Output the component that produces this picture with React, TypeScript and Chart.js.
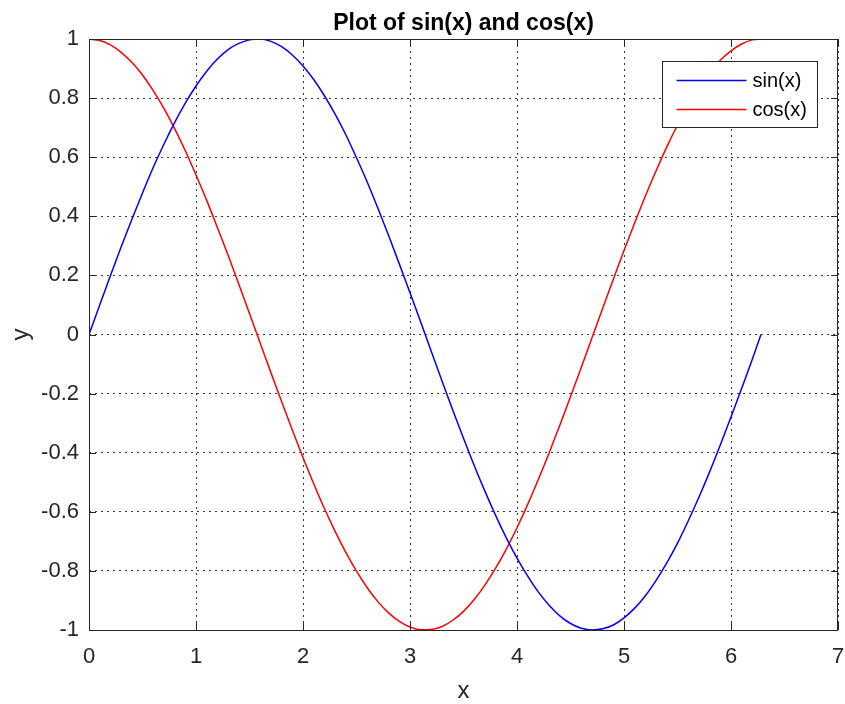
import React, { useEffect, useRef } from "react";
import { Chart, registerables } from "chart.js";

Chart.register(...registerables);

const titleText = "Plot of sin(x) and cos(x)";
const xAxisLabel = "x";
const yAxisLabel = "y";
const seriesLabels = ["sin(x)", "cos(x)"];
const seriesColors = ["#0000ff", "#ff0000"];

const xTicks = [0, 1, 2, 3, 4, 5, 6, 7];
const yTicks = [-1, -0.8, -0.6, -0.4, -0.2, 0, 0.2, 0.4, 0.6, 0.8, 1];

const xValues = [
  0, 0.1, 0.2, 0.3, 0.4, 0.5, 0.6, 0.7, 0.8, 0.9,
  1.0, 1.1, 1.2, 1.3, 1.4, 1.5, 1.6, 1.7, 1.8, 1.9,
  2.0, 2.1, 2.2, 2.3, 2.4, 2.5, 2.6, 2.7, 2.8, 2.9,
  3.0, 3.1, 3.2, 3.3, 3.4, 3.5, 3.6, 3.7, 3.8, 3.9,
  4.0, 4.1, 4.2, 4.3, 4.4, 4.5, 4.6, 4.7, 4.8, 4.9,
  5.0, 5.1, 5.2, 5.3, 5.4, 5.5, 5.6, 5.7, 5.8, 5.9,
  6.0, 6.1, 6.2, 6.28,
];

const sinValues = [
  0, 0.1, 0.199, 0.296, 0.389, 0.479, 0.565, 0.644, 0.717, 0.783,
  0.841, 0.891, 0.932, 0.964, 0.985, 0.997, 1.0, 0.992, 0.974, 0.946,
  0.909, 0.863, 0.808, 0.746, 0.676, 0.598, 0.516, 0.427, 0.335, 0.239,
  0.141, 0.042, -0.058, -0.158, -0.256, -0.351, -0.443, -0.53, -0.612, -0.688,
  -0.757, -0.818, -0.872, -0.916, -0.952, -0.978, -0.994, -1.0, -0.996, -0.983,
  -0.959, -0.926, -0.884, -0.832, -0.773, -0.706, -0.631, -0.551, -0.465, -0.374,
  -0.279, -0.182, -0.083, 0,
];

const cosValues = [
  1.0, 0.995, 0.98, 0.955, 0.921, 0.878, 0.825, 0.765, 0.697, 0.622,
  0.54, 0.454, 0.362, 0.268, 0.17, 0.071, -0.029, -0.129, -0.227, -0.323,
  -0.416, -0.505, -0.589, -0.666, -0.737, -0.801, -0.857, -0.904, -0.942, -0.971,
  -0.99, -0.999, -0.998, -0.988, -0.967, -0.937, -0.897, -0.848, -0.791, -0.726,
  -0.654, -0.575, -0.49, -0.401, -0.307, -0.211, -0.112, -0.012, 0.088, 0.187,
  0.284, 0.378, 0.469, 0.554, 0.635, 0.709, 0.776, 0.835, 0.886, 0.928,
  0.96, 0.983, 0.997, 1.0,
];

const FONT = "'Liberation Sans', Arial, Helvetica, sans-serif";
const AXIS_COLOR = "#262626";

const boxPlugin = {
  id: "matlabBox",
  afterDraw(chart: any) {
    const { ctx, chartArea } = chart;
    const { left, right, top, bottom } = chartArea;
    const xs = chart.scales.x;
    const ys = chart.scales.y;
    ctx.save();
    ctx.strokeStyle = AXIS_COLOR;
    ctx.lineWidth = 1;
    ctx.setLineDash([]);
    ctx.strokeRect(Math.round(left) + 0.5, Math.round(top) + 0.5, Math.round(right - left) - 1, Math.round(bottom - top));
    const tl = 7;
    ctx.beginPath();
    xTicks.forEach((v) => {
      const px = Math.round(xs.getPixelForValue(v)) + 0.5;
      ctx.moveTo(px, bottom);
      ctx.lineTo(px, bottom - tl);
      ctx.moveTo(px, top);
      ctx.lineTo(px, top + tl);
    });
    yTicks.forEach((v) => {
      const py = Math.round(ys.getPixelForValue(v)) + 0.5;
      ctx.moveTo(left, py);
      ctx.lineTo(left + tl, py);
      ctx.moveTo(right, py);
      ctx.lineTo(right - tl, py);
    });
    ctx.stroke();

    // title centred over the plot area
    ctx.fillStyle = "#000000";
    ctx.font = `bold 23px ${FONT}`;
    ctx.textAlign = "center";
    ctx.textBaseline = "alphabetic";
    ctx.fillText(titleText, (left + right) / 2, top - 9);

    // legend
    const lx = Math.round(right - 176) + 0.5;
    const ly = Math.round(top + 22) + 0.5;
    const lw = 155;
    const lh = 66;
    ctx.fillStyle = "#ffffff";
    ctx.fillRect(lx, ly, lw, lh);
    ctx.strokeStyle = "#262626";
    ctx.strokeRect(lx, ly, lw, lh);
    ctx.font = `20px ${FONT}`;
    ctx.textBaseline = "middle";
    ctx.textAlign = "left";
    seriesLabels.forEach((lab, i) => {
      const yy = ly + 19 + i * 29;
      ctx.strokeStyle = seriesColors[i];
      ctx.lineWidth = 1.5;
      ctx.beginPath();
      ctx.moveTo(lx + 14, yy);
      ctx.lineTo(lx + 84, yy);
      ctx.stroke();
      ctx.fillStyle = "#000000";
      ctx.fillText(lab, lx + 90, yy + 1);
    });
    ctx.restore();
  },
};

export default function App() {
  const ref = useRef<HTMLCanvasElement | null>(null);

  useEffect(() => {
    document.body.style.margin = "0";
    const canvas = ref.current;
    if (!canvas) return;
    const gridColor = "rgba(20,20,20,0.85)";
    const chart = new Chart(canvas, {
      type: "line",
      data: {
        datasets: [
          {
            label: seriesLabels[0],
            data: xValues.map((x, i) => ({ x, y: sinValues[i] })),
            borderColor: seriesColors[0],
            borderWidth: 1.5,
            pointRadius: 0,
            cubicInterpolationMode: "monotone",
            fill: false,
          },
          {
            label: seriesLabels[1],
            data: xValues.map((x, i) => ({ x, y: cosValues[i] })),
            borderColor: seriesColors[1],
            borderWidth: 1.5,
            pointRadius: 0,
            cubicInterpolationMode: "monotone",
            fill: false,
          },
        ],
      },
      options: {
        animation: false,
        responsive: false,
        devicePixelRatio: 1,
        layout: { padding: { left: 0, right: 7, top: 39, bottom: 0 } },
        plugins: {
          legend: { display: false },
          tooltip: { enabled: false },
          title: { display: false },
        },
        scales: {
          x: {
            type: "linear",
            min: 0,
            max: 7,
            afterBuildTicks: (scale: any) => {
              scale.ticks = xTicks.map((v) => ({ value: v }));
            },
            afterFit: (scale: any) => {
              scale.height = 74;
              scale.paddingLeft = 0;
              scale.paddingRight = 0;
            },
            ticks: {
              color: AXIS_COLOR,
              font: { family: FONT, size: 22 },
              padding: 14,
              maxRotation: 0,
              callback: (v: any) => String(v),
            },
            grid: { color: gridColor, drawTicks: false, tickLength: 0, lineWidth: 1 },
            border: { display: false, dash: [2, 4] },
            title: {
              display: true,
              text: xAxisLabel,
              color: AXIS_COLOR,
              font: { family: FONT, size: 24, lineHeight: 1 },
              padding: { top: 0, bottom: 1 },
            },
          },
          y: {
            type: "linear",
            min: -1,
            max: 1,
            afterBuildTicks: (scale: any) => {
              scale.ticks = yTicks.map((v) => ({ value: v }));
            },
            afterFit: (scale: any) => {
              scale.width = 89;
              scale.paddingTop = 0;
              scale.paddingBottom = 0;
            },
            ticks: {
              color: AXIS_COLOR,
              font: { family: FONT, size: 22 },
              padding: 10,
              callback: (v: any) => String(Math.round(Number(v) * 10) / 10),
            },
            grid: { color: gridColor, drawTicks: false, tickLength: 0, lineWidth: 1 },
            border: { display: false, dash: [2, 4] },
            title: {
              display: true,
              text: yAxisLabel,
              color: AXIS_COLOR,
              font: { family: FONT, size: 24, lineHeight: 1 },
              padding: { top: 9, bottom: 0 },
            },
          },
        },
      },
      plugins: [boxPlugin],
    } as any);
    return () => chart.destroy();
  }, []);

  return (
    <div style={{ position: "absolute", left: 0, top: 0, width: 845, height: 704 }}>
      <canvas ref={ref} width={845} height={704} style={{ display: "block" }} />
    </div>
  );
}
